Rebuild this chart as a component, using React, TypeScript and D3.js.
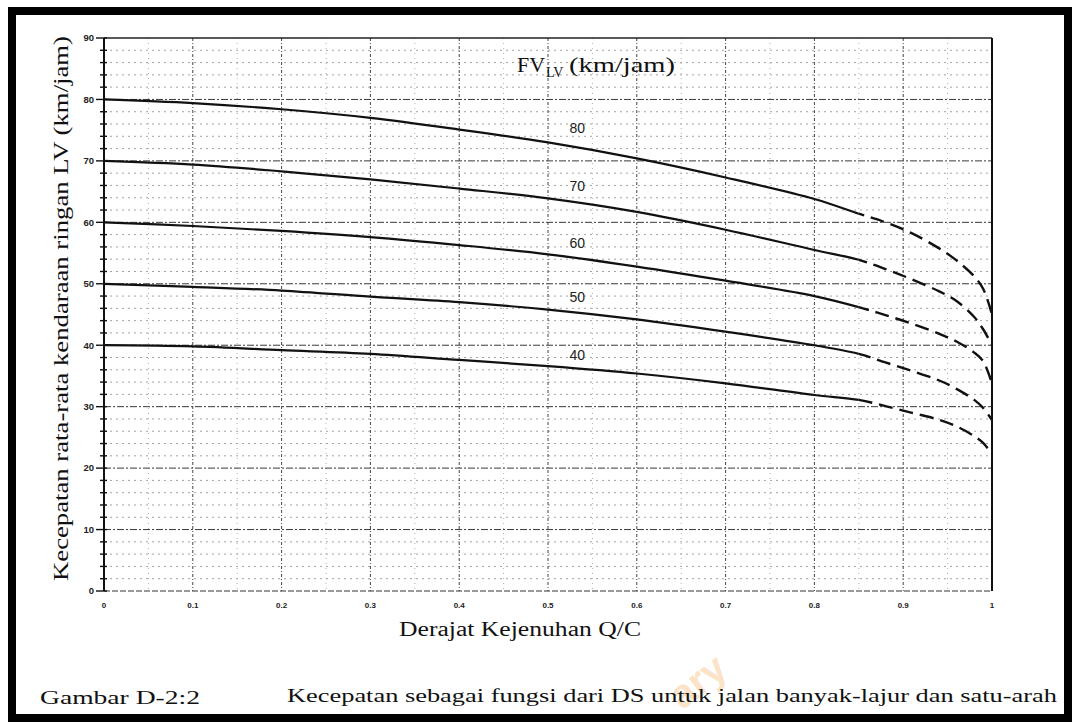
import React from 'react';
import * as d3 from 'd3';

const width = 1078, height = 722,
    margin = { top: 38, right: 86, bottom: 131, left: 104 };

// Q/C points read along the solid (observed) part of each curve
const qcSolid = [0, 0.1, 0.2, 0.3, 0.4, 0.5, 0.6, 0.7, 0.8, 0.85];
// Q/C points along the dashed part that bends down to Q/C = 1
const qcDash = [0.85, 0.88, 0.91, 0.94, 0.96, 0.98, 0.99, 1.0];
const qcSplit = 0.85;

// free flow speed of each curve (km/jam)
const fvLevels = [80, 70, 60, 50, 40];

const solid80 = [80, 79.4, 78.4, 77.0, 75.1, 73.0, 70.4, 67.3, 63.8, 61.4];
const solid70 = [70, 69.4, 68.3, 67.0, 65.5, 63.9, 61.7, 58.8, 55.5, 53.9];
const solid60 = [60, 59.4, 58.6, 57.6, 56.3, 54.8, 52.8, 50.5, 48.0, 46.2];
const solid50 = [50, 49.5, 48.9, 47.9, 47.0, 45.8, 44.2, 42.2, 40.0, 38.6];
const solid40 = [40, 39.8, 39.2, 38.6, 37.6, 36.6, 35.4, 33.8, 31.9, 31.1];

const dash80 = [61.4, 60.0, 58.2, 55.8, 53.8, 51.2, 49.2, 45.0];
const dash70 = [53.9, 52.4, 50.7, 48.8, 47.2, 44.6, 42.6, 40.0];
const dash60 = [46.2, 44.9, 43.5, 41.9, 40.6, 38.8, 37.4, 33.8];
const dash50 = [38.6, 37.2, 35.8, 34.3, 32.9, 31.1, 29.8, 27.8];
const dash40 = [31.1, 30.1, 29.0, 27.9, 26.8, 25.2, 24.1, 22.3];

// where the "80", "70" ... labels sit
const labelQc = 0.533;
const labelSpeed = [75.4, 65.9, 56.6, 47.9, 38.4];

const yMajor = d3.range(0, 91, 10);
const yMinor = d3.range(0, 91, 2);
const xMajor = d3.range(0, 11).map(i => i / 10);
const xMinor = d3.range(0, 21).map(i => i / 20);
const xTickLabels = ['0', '0.1', '0.2', '0.3', '0.4', '0.5', '0.6', '0.7', '0.8', '0.9', '1'];

const serif = '"Liberation Serif", "Times New Roman", serif';
const sans = '"Liberation Sans", Arial, sans-serif';

export default function App() {
    const x = d3.scaleLinear().domain([0, 1]).range([margin.left, width - margin.right]);
    const y = d3.scaleLinear().domain([0, 90]).range([height - margin.bottom, margin.top]);

    const line = d3.line<[number, number]>()
        .x(d => x(d[0]))
        .y(d => y(d[1]))
        .curve(d3.curveCatmullRom.alpha(0.5));

    const solids = [solid80, solid70, solid60, solid50, solid40];
    const dashes = [dash80, dash70, dash60, dash50, dash40];

    const x0 = x(0), x1 = x(1), y0 = y(0), y90 = y(90), xs = x(qcSplit);

    // one smooth path per curve, shown solid left of the split and dashed right of it
    const curvePath = (i: number) => {
        const pts: [number, number][] = qcSolid.map((q, j) => [q, solids[i][j]] as [number, number])
            .concat(qcDash.slice(1).map((q, j) => [q, dashes[i][j + 1]] as [number, number]));
        return line(pts) || '';
    };

    return (
        <svg width={width} height={height} viewBox={`0 0 ${width} ${height}`}
            style={{ position: 'absolute', left: 0, top: 0, background: '#fff' }}>
            <defs>
                <clipPath id="solid-part"><rect x={0} y={0} width={xs} height={height} /></clipPath>
                <clipPath id="dash-part"><rect x={xs} y={0} width={width - xs} height={height} /></clipPath>
            </defs>
            <rect x={0} y={0} width={width} height={height} fill="#fff" />
            {/* outer frame */}
            <rect x={12} y={11} width={1056} height={707} fill="none" stroke="#000" strokeWidth={8} />

            {/* minor grid */}
            {yMinor.filter(v => v % 10 !== 0).map(v => (
                <line key={'hm' + v} x1={x0} x2={x1} y1={y(v)} y2={y(v)}
                    stroke="#8a8a8a" strokeWidth={0.8} strokeDasharray="2,4" />
            ))}
            {xMinor.filter((v, i) => i % 2 === 1).map(v => (
                <line key={'vm' + v} x1={x(v)} x2={x(v)} y1={y90} y2={y0}
                    stroke="#9a9a9a" strokeWidth={0.8} strokeDasharray="1,4" />
            ))}
            {/* major grid */}
            {yMajor.slice(1, -1).map(v => (
                <line key={'hM' + v} x1={x0} x2={x1} y1={y(v)} y2={y(v)}
                    stroke="#3a3a3a" strokeWidth={1} strokeDasharray="7,2,2,2" />
            ))}
            {xMajor.slice(1, -1).map(v => (
                <line key={'vM' + v} x1={x(v)} x2={x(v)} y1={y90} y2={y0}
                    stroke="#444" strokeWidth={1} strokeDasharray="3,2,1,2" />
            ))}

            {/* plot frame */}
            <line x1={x0} x2={x1} y1={y90} y2={y90} stroke="#222" strokeWidth={1.3} />
            <line x1={x1} x2={x1} y1={y90} y2={y0} stroke="#111" strokeWidth={2} />
            <line x1={x0} x2={x1} y1={y0} y2={y0} stroke="#333" strokeWidth={1} strokeDasharray="6,2" />
            <line x1={x0} x2={x0} y1={y90} y2={y0} stroke="#111" strokeWidth={2} />

            {/* y ticks */}
            {yMinor.map(v => (
                <line key={'yt' + v} x1={x0 - (v % 10 === 0 ? 8 : 4)} x2={x0 + 3} y1={y(v)} y2={y(v)}
                    stroke="#111" strokeWidth={1.4} />
            ))}
            {yMajor.map(v => (
                <text key={'yl' + v} x={x0 - 10} y={y(v)} dy="0.35em" textAnchor="end"
                    fontFamily={sans} fontWeight="bold" fontSize={9.5} fill="#222">{v}</text>
            ))}
            {/* x tick labels */}
            {xMajor.map((v, i) => (
                <text key={'xl' + i} x={x(v)} y={y0 + 17} textAnchor="middle"
                    fontFamily={sans} fontWeight="bold" fontSize={8} fill="#222">{xTickLabels[i]}</text>
            ))}

            {/* curves */}
            {fvLevels.map((fv, i) => (
                <g key={'c' + fv}>
                    <path d={curvePath(i)} clipPath="url(#solid-part)"
                        fill="none" stroke="#111" strokeWidth={2.2} />
                    <path d={curvePath(i)} clipPath="url(#dash-part)"
                        fill="none" stroke="#111" strokeWidth={2.4} strokeDasharray="14,7" strokeDashoffset={-1} />
                    <text x={x(labelQc)} y={y(labelSpeed[i])} dy="0.35em" textAnchor="middle"
                        fontFamily={sans} fontSize={14} fill="#222">{fv}</text>
                </g>
            ))}

            {/* legend title */}
            <text x={517} y={72} fontFamily={serif} fontSize={22} fill="#111">FV</text>
            <text x={546} y={77} fontFamily={serif} fontSize={14} fill="#111">LV</text>
            <text x={569} y={72} fontFamily={serif} fontSize={22} fill="#111"
                textLength={106} lengthAdjust="spacingAndGlyphs">(km/jam)</text>

            {/* axis titles */}
            <text transform={`translate(68, ${(y0 + y90) / 2 - 6}) rotate(-90)`} textAnchor="middle"
                fontFamily={serif} fontSize={21} fill="#111" textLength={545} lengthAdjust="spacingAndGlyphs">
                Kecepatan rata-rata kendaraan ringan LV (km/jam)
            </text>
            <text x={520} y={636} textAnchor="middle" fontFamily={serif} fontSize={20} fill="#111"
                textLength={242} lengthAdjust="spacingAndGlyphs">Derajat Kejenuhan Q/C</text>

            {/* watermark remnant */}
            <text transform="translate(706, 692) rotate(-38)" textAnchor="middle" fontFamily={sans}
                fontWeight="bold" fontSize={40} fill="#f6a24a" opacity={0.3}>ary</text>

            {/* caption */}
            <text x={40} y={704} fontFamily={serif} fontSize={19} fill="#111"
                textLength={160} lengthAdjust="spacingAndGlyphs">Gambar D-2:2</text>
            <text x={287} y={702} fontFamily={serif} fontSize={19} fill="#111"
                textLength={770} lengthAdjust="spacingAndGlyphs">
                Kecepatan sebagai fungsi dari DS untuk jalan banyak-lajur dan satu-arah
            </text>
        </svg>
    );
}
